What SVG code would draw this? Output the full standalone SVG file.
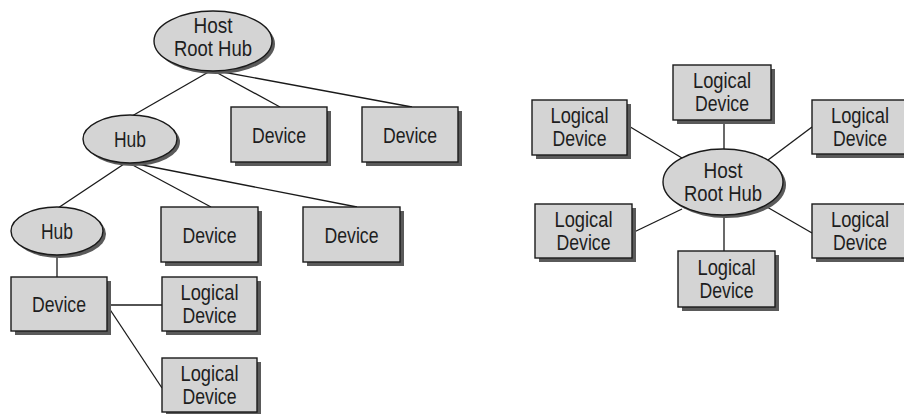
<svg xmlns="http://www.w3.org/2000/svg" width="904" height="414" viewBox="0 0 904 414">
<style>
.bg{fill:#fff}
.sh{fill:#5a5a5a}
.box{fill:#d4d4d4;stroke:#1a1a1a;stroke-width:1.4}
.ell{fill:#d4d4d4;stroke:#1a1a1a;stroke-width:1.4}
.ln{stroke:#1a1a1a;stroke-width:1.3;fill:none}
text{font-family:"Liberation Sans","Arial",sans-serif;font-size:22.5px;fill:#1e1e1e;text-anchor:middle}
.sm{font-size:21.5px}
</style>
<rect class="bg" x="0" y="0" width="904" height="414"/>
<g id="connectors">
<line class="ln" x1="212" y1="70" x2="132" y2="116"/>
<line class="ln" x1="212" y1="70" x2="280" y2="107"/>
<line class="ln" x1="212" y1="70" x2="412" y2="107"/>
<line class="ln" x1="127" y1="162" x2="58" y2="208"/>
<line class="ln" x1="127" y1="162" x2="211" y2="207"/>
<line class="ln" x1="127" y1="162" x2="357" y2="207"/>
<line class="ln" x1="57" y1="254" x2="57" y2="277"/>
<line class="ln" x1="107" y1="305" x2="162" y2="305"/>
<line class="ln" x1="107" y1="305" x2="162" y2="388"/>
<line class="ln" x1="724" y1="120" x2="724" y2="150"/>
<line class="ln" x1="627" y1="125" x2="682" y2="158"/>
<line class="ln" x1="768" y1="160" x2="812" y2="127"/>
<line class="ln" x1="632" y1="233" x2="682" y2="209"/>
<line class="ln" x1="767" y1="207" x2="812" y2="233"/>
<line class="ln" x1="724" y1="214" x2="724" y2="251"/>
</g>
<g id="root-hub-left">
<ellipse class="sh" cx="216" cy="44" rx="59" ry="30"/>
<ellipse class="ell" cx="213" cy="41" rx="59" ry="30"/>
<text class="sm" x="213" y="33" textLength="39" lengthAdjust="spacingAndGlyphs">Host</text>
<text class="sm" x="213" y="56" textLength="78" lengthAdjust="spacingAndGlyphs">Root Hub</text>
</g>
<g id="hub1">
<ellipse class="sh" cx="133" cy="142" rx="47" ry="24"/>
<ellipse class="ell" cx="130" cy="139" rx="47" ry="24"/>
<text x="130" y="147" textLength="32" lengthAdjust="spacingAndGlyphs">Hub</text>
</g>
<g id="hub2">
<ellipse class="sh" cx="60" cy="234" rx="46" ry="24"/>
<ellipse class="ell" cx="57" cy="231" rx="46" ry="24"/>
<text x="57" y="239" textLength="32" lengthAdjust="spacingAndGlyphs">Hub</text>
</g>
<g id="device-a">
<rect class="sh" x="235" y="111" width="96" height="55"/>
<rect class="box" x="231" y="107" width="96" height="55"/>
<text x="279" y="143" textLength="54" lengthAdjust="spacingAndGlyphs">Device</text>
</g>
<g id="device-b">
<rect class="sh" x="366" y="111" width="96" height="55"/>
<rect class="box" x="362" y="107" width="96" height="55"/>
<text x="410" y="143" textLength="54" lengthAdjust="spacingAndGlyphs">Device</text>
</g>
<g id="device-c">
<rect class="sh" x="165" y="211" width="97" height="55"/>
<rect class="box" x="161" y="207" width="97" height="55"/>
<text x="209.5" y="243" textLength="54" lengthAdjust="spacingAndGlyphs">Device</text>
</g>
<g id="device-d">
<rect class="sh" x="307" y="211" width="97" height="55"/>
<rect class="box" x="303" y="207" width="97" height="55"/>
<text x="351.5" y="243" textLength="54" lengthAdjust="spacingAndGlyphs">Device</text>
</g>
<g id="device-e">
<rect class="sh" x="15" y="281" width="96" height="54"/>
<rect class="box" x="11" y="277" width="96" height="54"/>
<text x="59" y="312" textLength="54" lengthAdjust="spacingAndGlyphs">Device</text>
</g>
<g id="logical-1">
<rect class="sh" x="166" y="281" width="95" height="54"/>
<rect class="box" x="162" y="277" width="95" height="54"/>
<text x="209.5" y="300" textLength="58" lengthAdjust="spacingAndGlyphs">Logical</text>
<text x="209.5" y="323" textLength="54" lengthAdjust="spacingAndGlyphs">Device</text>
</g>
<g id="logical-2">
<rect class="sh" x="166" y="362" width="95" height="54"/>
<rect class="box" x="162" y="358" width="95" height="54"/>
<text x="209.5" y="381" textLength="58" lengthAdjust="spacingAndGlyphs">Logical</text>
<text x="209.5" y="404" textLength="54" lengthAdjust="spacingAndGlyphs">Device</text>
</g>
<g id="root-hub-right">
<ellipse class="sh" cx="726" cy="185" rx="60" ry="33"/>
<ellipse class="ell" cx="723" cy="182" rx="60" ry="33"/>
<text x="723" y="178" textLength="39" lengthAdjust="spacingAndGlyphs">Host</text>
<text x="723" y="201" textLength="78" lengthAdjust="spacingAndGlyphs">Root Hub</text>
</g>
<g id="ld-top">
<rect class="sh" x="677" y="69" width="98" height="55"/>
<rect class="box" x="673" y="65" width="98" height="55"/>
<text x="722" y="88" textLength="58" lengthAdjust="spacingAndGlyphs">Logical</text>
<text x="722" y="111" textLength="54" lengthAdjust="spacingAndGlyphs">Device</text>
</g>
<g id="ld-upper-left">
<rect class="sh" x="536" y="104" width="95" height="55"/>
<rect class="box" x="532" y="100" width="95" height="55"/>
<text x="579.5" y="123" textLength="58" lengthAdjust="spacingAndGlyphs">Logical</text>
<text x="579.5" y="146" textLength="54" lengthAdjust="spacingAndGlyphs">Device</text>
</g>
<g id="ld-upper-right">
<rect class="sh" x="816" y="104" width="96" height="54"/>
<rect class="box" x="812" y="100" width="96" height="54"/>
<text x="860" y="123" textLength="58" lengthAdjust="spacingAndGlyphs">Logical</text>
<text x="860" y="146" textLength="54" lengthAdjust="spacingAndGlyphs">Device</text>
</g>
<g id="ld-lower-left">
<rect class="sh" x="539" y="208" width="97" height="54"/>
<rect class="box" x="535" y="204" width="97" height="54"/>
<text x="583.5" y="227" textLength="58" lengthAdjust="spacingAndGlyphs">Logical</text>
<text x="583.5" y="250" textLength="54" lengthAdjust="spacingAndGlyphs">Device</text>
</g>
<g id="ld-lower-right">
<rect class="sh" x="816" y="208" width="96" height="54"/>
<rect class="box" x="812" y="204" width="96" height="54"/>
<text x="860" y="227" textLength="58" lengthAdjust="spacingAndGlyphs">Logical</text>
<text x="860" y="250" textLength="54" lengthAdjust="spacingAndGlyphs">Device</text>
</g>
<g id="ld-bottom">
<rect class="sh" x="682" y="255" width="97" height="56"/>
<rect class="box" x="678" y="251" width="97" height="56"/>
<text x="726.5" y="275" textLength="58" lengthAdjust="spacingAndGlyphs">Logical</text>
<text x="726.5" y="298" textLength="54" lengthAdjust="spacingAndGlyphs">Device</text>
</g>
</svg>
